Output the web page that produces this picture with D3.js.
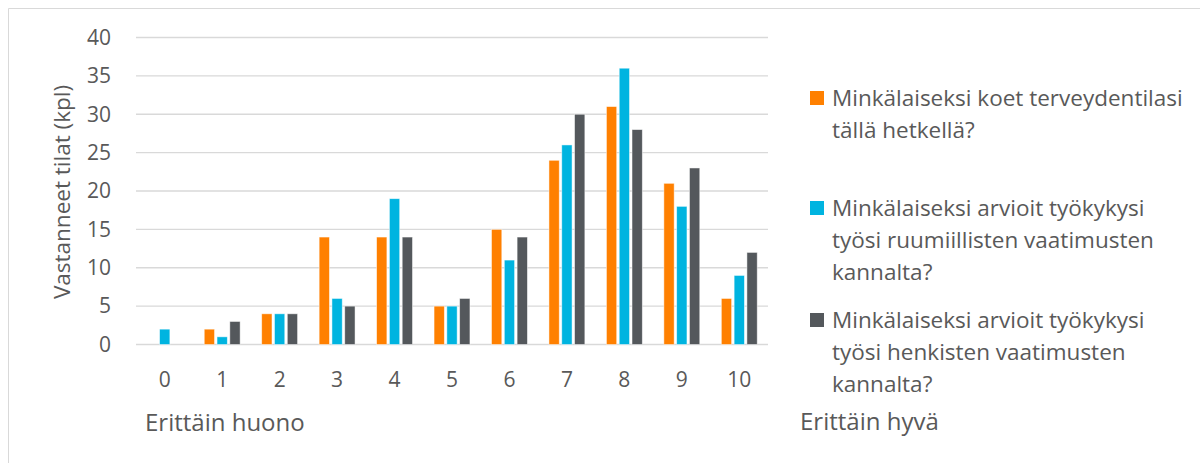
<!DOCTYPE html>
<html>
<head>
<meta charset="utf-8">
<script src="https://cdnjs.cloudflare.com/ajax/libs/d3/7.8.5/d3.min.js"></script>
<style>
  body { margin: 0; background: #fff; }
  svg { display: block; font-family: "Open Sans", sans-serif; }
</style>
</head>
<body>
<svg id="chart" width="1200" height="463"></svg>
<script>
const categories = ["0", "1", "2", "3", "4", "5", "6", "7", "8", "9", "10"]
const seriesNames = [
  ["Minkälaiseksi koet terveydentilasi", "tällä hetkellä?"],
  ["Minkälaiseksi arvioit työkykysi", "työsi ruumiillisten vaatimusten", "kannalta?"],
  ["Minkälaiseksi arvioit työkykysi", "työsi henkisten vaatimusten", "kannalta?"]
]
const terveys = [0, 2, 4, 14, 14, 5, 15, 24, 31, 21, 6]
const ruumiillinen = [2, 1, 4, 6, 19, 5, 11, 26, 36, 18, 9]
const henkinen = [0, 3, 4, 5, 14, 6, 14, 30, 28, 23, 12]
const yTicks = [0, 5, 10, 15, 20, 25, 30, 35, 40]
const colors = ["#ff8000", "#00b4e0", "#54585c"]

const series = [terveys, ruumiillinen, henkinen]
const svg = d3.select("#chart")
const textColor = "#595959"

// chart frame
svg.append("path")
  .attr("d", "M8.5,463 V8.5 H1200")
  .attr("fill", "none")
  .attr("stroke", "#d9d9d9")
  .attr("stroke-width", 1)

const x = d3.scaleBand().domain(categories).range([136, 768])
const y = d3.scaleLinear().domain([0, 40]).range([344.5, 37.5])

// gridlines
svg.append("g")
  .selectAll("line")
  .data(yTicks)
  .enter().append("line")
  .attr("x1", 136).attr("x2", 768)
  .attr("y1", d => y(d)).attr("y2", d => y(d))
  .attr("stroke", "#d9d9d9")
  .attr("stroke-width", 1.3)

// y tick labels
svg.append("g")
  .selectAll("text")
  .data(yTicks)
  .enter().append("text")
  .attr("x", 111)
  .attr("y", d => y(d))
  .attr("dy", "0.35em")
  .attr("text-anchor", "end")
  .attr("font-size", 21)
  .attr("fill", textColor)
  .text(d => d)

// x tick labels
svg.append("g")
  .selectAll("text")
  .data(categories)
  .enter().append("text")
  .attr("x", d => x(d) + x.bandwidth() / 2)
  .attr("y", 380)
  .attr("dy", "0.35em")
  .attr("text-anchor", "middle")
  .attr("font-size", 21)
  .attr("fill", textColor)
  .text(d => d)

// bars
const barW = 10.3, step = 12.8
series.forEach((vals, i) => {
  svg.append("g")
    .selectAll("rect")
    .data(vals)
    .enter().append("rect")
    .attr("x", (d, j) => x(categories[j]) + x.bandwidth() / 2 + (i - 1) * step - barW / 2)
    .attr("y", d => y(d))
    .attr("width", barW)
    .attr("height", d => y(0) - y(d))
    .attr("fill", colors[i])
    .attr("stroke", d => d > 0 ? "rgba(255,255,255,0.6)" : "none")
    .attr("stroke-width", 0.8)
})

// axis title
svg.append("text")
  .attr("transform", "translate(62,192) rotate(-90)")
  .attr("dy", "0.35em")
  .attr("text-anchor", "middle")
  .attr("font-size", 22.5)
  .attr("fill", textColor)
  .text("Vastanneet tilat (kpl)")

svg.append("text")
  .attr("x", 145).attr("y", 423)
  .attr("dy", "0.35em")
  .attr("font-size", 24)
  .attr("fill", textColor)
  .text("Erittäin huono")

svg.append("text")
  .attr("x", 800).attr("y", 422)
  .attr("dy", "0.35em")
  .attr("font-size", 24)
  .attr("fill", textColor)
  .text("Erittäin hyvä")

// legend
const legendTop = [98, 208, 320]
const lineH = 32
seriesNames.forEach((lines, i) => {
  const g = svg.append("g")
  g.append("rect")
    .attr("x", 810).attr("y", legendTop[i] - 7)
    .attr("width", 14).attr("height", 14)
    .attr("fill", colors[i])
  g.selectAll("text")
    .data(lines)
    .enter().append("text")
    .attr("x", 832)
    .attr("y", (d, k) => legendTop[i] + k * lineH)
    .attr("dy", "0.35em")
    .attr("font-size", 22.5)
    .attr("fill", textColor)
    .text(d => d)
})
</script>
</body>
</html>
